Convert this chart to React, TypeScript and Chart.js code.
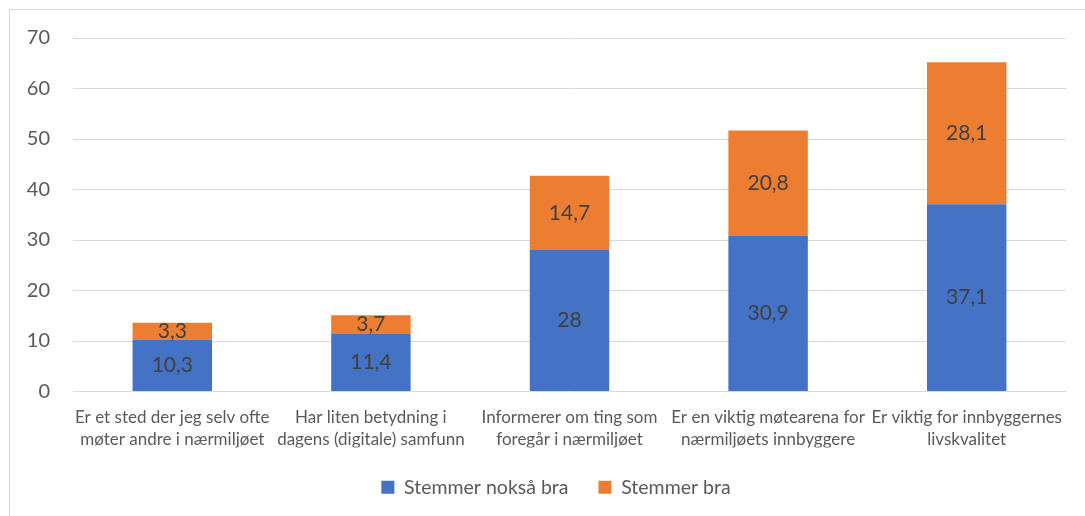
import React, { useEffect, useRef } from "react";
import { Chart, registerables } from "chart.js";

Chart.register(...registerables);

const categories: string[][] = [
  ["Er et sted der jeg selv ofte", "møter andre i nærmiljøet"],
  ["Har liten betydning i", "dagens (digitale) samfunn"],
  ["Informerer om ting som", "foregår i nærmiljøet"],
  ["Er en viktig møtearena for", "nærmiljøets innbyggere"],
  ["Er viktig for innbyggernes", "livskvalitet"],
];
const seriesNames = ["Stemmer nokså bra", "Stemmer bra"];
const stemmerNoksaBra = [10.3, 11.4, 28, 30.9, 37.1];
const stemmerBra = [3.3, 3.7, 14.7, 20.8, 28.1];
const yMin = 0;
const yMax = 70;
const yStep = 10;

const FONT = "Lato, 'Noto Sans', sans-serif";
const TEXT = "#595959";

const dataLabelPlugin = {
  id: "dataLabels",
  afterDatasetsDraw(chart: any) {
    const ctx = chart.ctx;
    ctx.save();
    ctx.font = `21px ${FONT}`;
    ctx.fillStyle = "#404040";
    ctx.textAlign = "center";
    ctx.textBaseline = "middle";
    chart.data.datasets.forEach((ds: any, di: number) => {
      const meta = chart.getDatasetMeta(di);
      meta.data.forEach((el: any, i: number) => {
        const v = ds.data[i];
        const txt = String(v).replace(".", ",");
        const y = (el.y + el.base) / 2;
        ctx.fillText(txt, el.x, y);
      });
    });
    ctx.restore();
  },
};

// Excel centres the legend on the whole chart frame, which extends past the
// cropped right edge; nudge the legend box accordingly.
const legendShiftPlugin = {
  id: "legendShift",
  afterLayout(chart: any) {
    const lg = chart.legend;
    if (lg) lg.left = lg.left + 36;
  },
};

export default function App() {
  const ref = useRef<HTMLCanvasElement | null>(null);
  useEffect(() => {
    if (!ref.current) return;
    const chart = new Chart(ref.current, {
      type: "bar",
      data: {
        labels: categories,
        datasets: [
          {
            label: seriesNames[0],
            data: stemmerNoksaBra,
            backgroundColor: "#4472C4",
            categoryPercentage: 1,
            barPercentage: 0.4,
          },
          {
            label: seriesNames[1],
            data: stemmerBra,
            backgroundColor: "#ED7D31",
            categoryPercentage: 1,
            barPercentage: 0.4,
          },
        ],
      },
      options: {
        animation: false,
        responsive: true,
        maintainAspectRatio: false,
        layout: { padding: { left: 0, right: 19, top: 28, bottom: 9 } },
        plugins: {
          tooltip: { enabled: false },
          legend: {
            position: "bottom",
            maxHeight: 60,
            labels: {
              boxWidth: 13,
              boxHeight: 13,
              padding: 30,
              color: TEXT,
              font: { family: FONT, size: 19.5 },
            },
          },
        },
        scales: {
          x: {
            stacked: true,
            grid: { display: false, drawTicks: false },
            border: { display: false },
            ticks: {
              color: TEXT,
              padding: 15,
              maxRotation: 0,
              autoSkip: false,
              font: { family: FONT, size: 17, lineHeight: 1.3 },
            },
            afterFit(scale: any) {
              scale.height = 56;
            },
          },
          y: {
            stacked: true,
            min: yMin,
            max: yMax,
            grid: { color: "#D9D9D9", drawTicks: false },
            border: { display: false },
            ticks: {
              stepSize: yStep,
              color: TEXT,
              padding: 23,
              font: { family: FONT, size: 20 },
            },
            afterFit(scale: any) {
              scale.width = 63;
              scale.paddingTop = 0;
              scale.paddingBottom = 0;
            },
          },
        },
      },
      plugins: [dataLabelPlugin, legendShiftPlugin],
    });
    return () => chart.destroy();
  }, []);

  return (
    <div
      style={{
        position: "absolute",
        left: 9,
        top: 9,
        width: 1076,
        height: 507,
        boxSizing: "border-box",
        borderTop: "1px solid #D9D9D9",
        borderLeft: "1px solid #D9D9D9",
        background: "#fff",
      }}
    >
      <div style={{ position: "relative", width: "100%", height: "100%" }}>
        <canvas ref={ref} />
      </div>
    </div>
  );
}
